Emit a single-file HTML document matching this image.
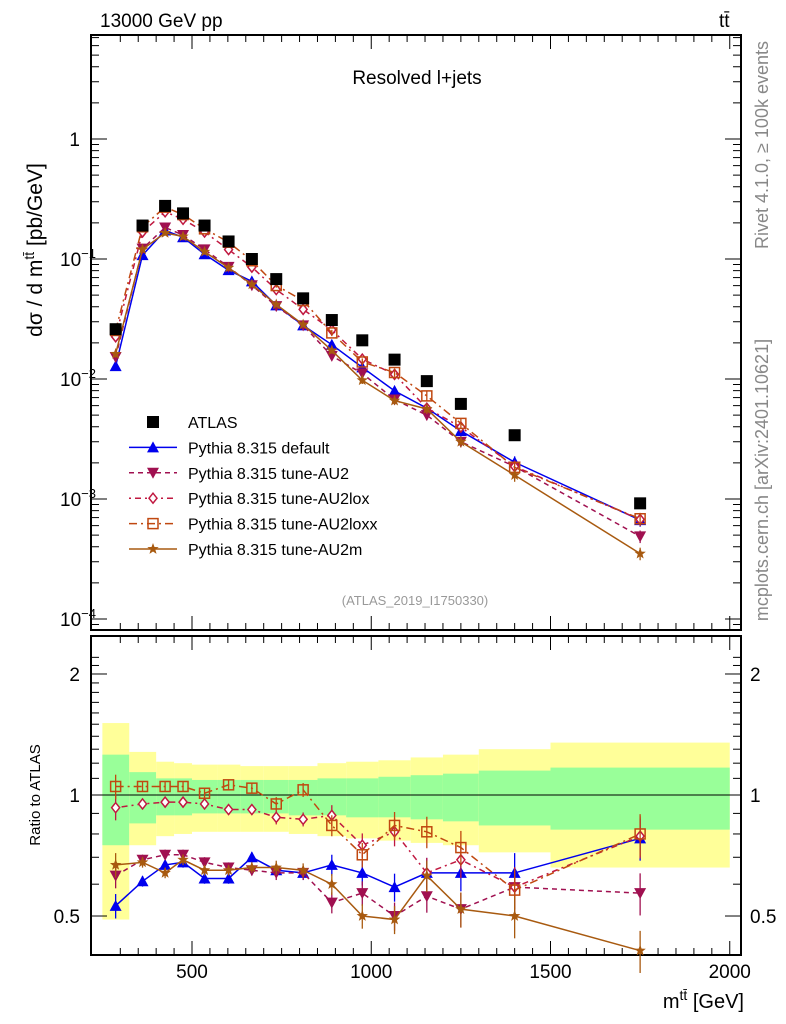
<!DOCTYPE html>
<html><head><meta charset="utf-8"><style>
body{margin:0;background:#fff;}
svg{display:block;font-family:"Liberation Sans",sans-serif;}
</style></head><body>
<svg id="chart" width="786" height="1024" viewBox="0 0 786 1024" xmlns="http://www.w3.org/2000/svg">
<rect width="786" height="1024" fill="#fff"/>
<g id="bands"></g>
<g id="axes"></g>
<g id="series"></g>
<text x="100" y="27" font-size="19">13000 GeV pp</text>
<text x="719" y="27" font-size="19">tt̄</text>
<text x="417" y="84" font-size="19" text-anchor="middle">Resolved l+jets</text>
<text x="415" y="605" font-size="13" fill="#999" text-anchor="middle">(ATLAS_2019_I1750330)</text>
<text transform="translate(42,250) rotate(-90)" font-size="21" text-anchor="middle">dσ / d m<tspan dy="-8" font-size="14">tt̄</tspan><tspan dy="8"> [pb/GeV]</tspan></text>
<text transform="translate(40,795) rotate(-90)" font-size="15" text-anchor="middle">Ratio to ATLAS</text>
<text x="744" y="1008" font-size="20" text-anchor="end">m<tspan dy="-8" font-size="14">tt̄</tspan><tspan dy="8"> [GeV]</tspan></text>
<text transform="translate(768,145) rotate(-90)" font-size="18" fill="#888" text-anchor="middle">Rivet 4.1.0, ≥ 100k events</text>
<text transform="translate(768,480) rotate(-90)" font-size="18" fill="#888" text-anchor="middle">mcplots.cern.ch [arXiv:2401.10621]</text>
<g id="legend"></g>
</svg>
<script>
const binEdges=[250,325,400,450,500,570,635,700,770,850,930,1020,1110,1200,1300,1500,2000];
const binCenters=[287,362,425,475,535,602,667,735,810,890,975,1065,1155,1250,1400,1750];
const atlas=[0.026,0.19,0.277,0.24,0.19,0.14,0.1,0.068,0.047,0.031,0.021,0.0145,0.0096,0.0062,0.0034,0.00092];
const ratioDefault=[0.53,0.61,0.67,0.68,0.62,0.62,0.70,0.65,0.64,0.67,0.64,0.59,0.64,0.64,0.64,0.78];
const ratioAU2=[0.63,0.69,0.71,0.71,0.68,0.66,0.65,0.64,0.64,0.54,0.57,0.50,0.56,0.52,0.59,0.57];
const ratioAU2lox=[0.93,0.95,0.96,0.96,0.95,0.92,0.92,0.88,0.87,0.89,0.75,0.81,0.64,0.69,0.59,0.79];
const ratioAU2loxx=[1.05,1.05,1.05,1.05,1.01,1.06,1.04,0.95,1.03,0.84,0.71,0.84,0.81,0.74,0.58,0.80];
const ratioAU2m=[0.67,0.68,0.64,0.69,0.65,0.65,0.66,0.66,0.65,0.60,0.50,0.49,0.63,0.52,0.50,0.41];
const relErr=[0.07,0.03,0.03,0.03,0.03,0.03,0.03,0.04,0.04,0.06,0.07,0.08,0.09,0.10,0.12,0.12];
const yellowHi=[1.51,1.28,1.21,1.20,1.19,1.19,1.18,1.18,1.18,1.20,1.21,1.22,1.24,1.26,1.30,1.35];
const yellowLo=[0.49,0.75,0.79,0.80,0.81,0.81,0.81,0.81,0.80,0.79,0.78,0.77,0.76,0.75,0.72,0.66];
const greenHi=[1.26,1.14,1.10,1.10,1.09,1.09,1.09,1.09,1.09,1.10,1.10,1.11,1.12,1.13,1.15,1.17];
const greenLo=[0.75,0.85,0.89,0.89,0.90,0.90,0.90,0.90,0.89,0.89,0.88,0.88,0.87,0.86,0.84,0.82];
const xTicks=[500,1000,1500,2000];
const topTickExp=[0,-1,-2,-3,-4];
const ratioTicks=[0.5,1,2];

const NS="http://www.w3.org/2000/svg";
const L=91,R=741,T1=35,B1=630,T2=636,B2=955;
const xs=m=>192+(m-500)*0.3585;
const ys=v=>139-120*Math.log10(v);
const yr=r=>795-402*Math.log10(r);
function mk(tag,attrs,parent){const e=document.createElementNS(NS,tag);for(const k in attrs)e.setAttribute(k,attrs[k]);parent.appendChild(e);return e;}
const axes=document.getElementById('axes'),bands=document.getElementById('bands'),ser=document.getElementById('series'),leg=document.getElementById('legend');

for(let i=0;i<binCenters.length;i++){
  const x0=xs(binEdges[i]),x1=xs(binEdges[i+1]);
  let e=mk('rect',{x:x0,y:yr(yellowHi[i]),width:x1-x0,height:yr(yellowLo[i])-yr(yellowHi[i]),fill:'#ffff99'},bands);
  
  
  e=mk('rect',{x:x0,y:yr(greenHi[i]),width:x1-x0,height:yr(greenLo[i])-yr(greenHi[i]),fill:'#99ff99'},bands);
  
  
}
let f=mk('rect',{x:L,y:T1,width:R-L,height:B1-T1,fill:'none',stroke:'#000','stroke-width':2},axes);


f=mk('rect',{x:L,y:T2,width:R-L,height:B2-T2,fill:'none',stroke:'#000','stroke-width':2},axes);


mk('line',{x1:L,x2:R,y1:yr(1),y2:yr(1),stroke:'#000','stroke-width':1},axes);
for(let m=300;m<=2000;m+=50){
  const big=m%500===0,len=big?14:7;
  for(const [t,b] of [[T1,B1],[T2,B2]]){
    mk('line',{x1:xs(m),x2:xs(m),y1:b,y2:b-len,stroke:'#000'},axes);
    mk('line',{x1:xs(m),x2:xs(m),y1:t,y2:t+len,stroke:'#000'},axes);
  }
}
xTicks.forEach(m=>{const t=mk('text',{x:xs(m),y:978,'font-size':19,'text-anchor':'middle'},axes);t.textContent=m;

});
topTickExp.forEach(e=>{
  const y=ys(Math.pow(10,e));
  mk('line',{x1:L,x2:L+16,y1:y,y2:y,stroke:'#000'},axes);mk('line',{x1:R,x2:R-16,y1:y,y2:y,stroke:'#000'},axes);
  const t=mk('text',{x:e===0?80:60,y:y+7,'font-size':19,'text-anchor':e===0?'end':'start'},axes);
  if(e===0)t.textContent='1';else{t.textContent='10';const s=mk('tspan',{dy:-8,'font-size':13},t);s.textContent='−'+String(-e);}
  
  
  for(let k=2;k<10;k++){const yy=ys(k*Math.pow(10,e-1));if(yy>B1||yy<T1)continue;
    mk('line',{x1:L,x2:L+8,y1:yy,y2:yy,stroke:'#000'},axes);mk('line',{x1:R,x2:R-8,y1:yy,y2:yy,stroke:'#000'},axes);}
});
for(let k=2;k<10;k++){const yy=ys(k);if(yy>T1){mk('line',{x1:L,x2:L+8,y1:yy,y2:yy,stroke:'#000'},axes);mk('line',{x1:R,x2:R-8,y1:yy,y2:yy,stroke:'#000'},axes);}}
for(let r=0.4;r<=2.3;r+=0.1){const y=yr(r);if(y<T2||y>B2)continue;const big=[0.5,1,2].some(v=>Math.abs(v-r)<1e-6);
  mk('line',{x1:L,x2:L+(big?16:8),y1:y,y2:y,stroke:'#000'},axes);mk('line',{x1:R,x2:R-(big?16:8),y1:y,y2:y,stroke:'#000'},axes);}
ratioTicks.forEach(r=>{const y=yr(r);
  let t=mk('text',{x:80,y:y+7,'font-size':19,'text-anchor':'end'},axes);t.textContent=r;
  
  
  t=mk('text',{x:750,y:y+7,'font-size':19},axes);t.textContent=r;
  
  });

function marker(type,x,y,c,g){
  if(type==='sq')return mk('rect',{x:x-6,y:y-6,width:12,height:12,fill:'#000'},g);
  if(type==='up')return mk('path',{d:`M${x-6},${y+5}L${x+6},${y+5}L${x},${y-6}Z`,fill:c},g);
  if(type==='down')return mk('path',{d:`M${x-6},${y-5}L${x+6},${y-5}L${x},${y+6}Z`,fill:c},g);
  if(type==='dia')return mk('path',{d:`M${x},${y-5}L${x+4},${y}L${x},${y+5}L${x-4},${y}Z`,fill:'#fff',stroke:c,'stroke-width':1.5},g);
  if(type==='osq')return mk('rect',{x:x-5,y:y-5,width:10,height:10,fill:'none',stroke:c,'stroke-width':1.5},g);
  if(type==='star'){let p='';for(let k=0;k<10;k++){const a=-Math.PI/2+k*Math.PI/5,rr=k%2?2.5:6;p+=(k?'L':'M')+(x+rr*Math.cos(a))+','+(y+rr*Math.sin(a));}return mk('path',{d:p+'Z',fill:c},g);}
}
const mcs=[
 {name:'Pythia 8.315 default',key:'default',r:ratioDefault,c:'#0000ee',dash:'',m:'up'},
 {name:'Pythia 8.315 tune-AU2',key:'au2',r:ratioAU2,c:'#a01050',dash:'5,4',m:'down'},
 {name:'Pythia 8.315 tune-AU2lox',key:'au2lox',r:ratioAU2lox,c:'#c01840',dash:'2,4,6,4',m:'dia'},
 {name:'Pythia 8.315 tune-AU2loxx',key:'au2loxx',r:ratioAU2loxx,c:'#c04810',dash:'8,4,2,4',m:'osq'},
 {name:'Pythia 8.315 tune-AU2m',key:'au2m',r:ratioAU2m,c:'#a85a10',dash:'',m:'star'}
];
mcs.forEach(s=>{
  const g=mk('g',{},ser);
  
  
  const vals=s.r.map((r,i)=>r*atlas[i]*0.93);
  const p1=vals.map((v,i)=>xs(binCenters[i])+','+ys(v)).join(' ');
  const p2=s.r.map((r,i)=>xs(binCenters[i])+','+yr(r)).join(' ');
  mk('polyline',{points:p1,fill:'none',stroke:s.c,'stroke-width':1.5,'stroke-dasharray':s.dash},g);
  mk('polyline',{points:p2,fill:'none',stroke:s.c,'stroke-width':1.5,'stroke-dasharray':s.dash},g);
  s.r.forEach((r,i)=>{const x=xs(binCenters[i]);const e=relErr[i];
    mk('line',{x1:x,x2:x,y1:yr(r*(1+e)),y2:yr(r*(1-e)),stroke:s.c,'stroke-width':1.3},g);
    mk('line',{x1:x,x2:x,y1:ys(vals[i]*(1+e)),y2:ys(vals[i]*(1-e)),stroke:s.c,'stroke-width':1.3},g);
    const m1=marker(s.m,x,ys(vals[i]),s.c,g);
    
    const m2=marker(s.m,x,yr(r),s.c,g);
    
  });
});
const ga=mk('g',{},ser);


atlas.forEach((v,i)=>{const m=marker('sq',xs(binCenters[i]),ys(v),'#000',ga);
  
  });
const rows=[{name:'ATLAS',m:'sq',c:'#000',dash:null}].concat(mcs);
rows.forEach((s,i)=>{const y=422+25.4*i;
  const g=mk('g',{},leg);
  
  
  if(s.dash!==null&&s.dash!==undefined)mk('line',{x1:129,x2:177,y1:y,y2:y,stroke:s.c,'stroke-width':1.5,'stroke-dasharray':s.dash},g);
  marker(s.m,153,y,s.c,g);
  const t=mk('text',{x:188,y:y+6,'font-size':16},g);t.textContent=s.name;});
</script>
</body></html>
